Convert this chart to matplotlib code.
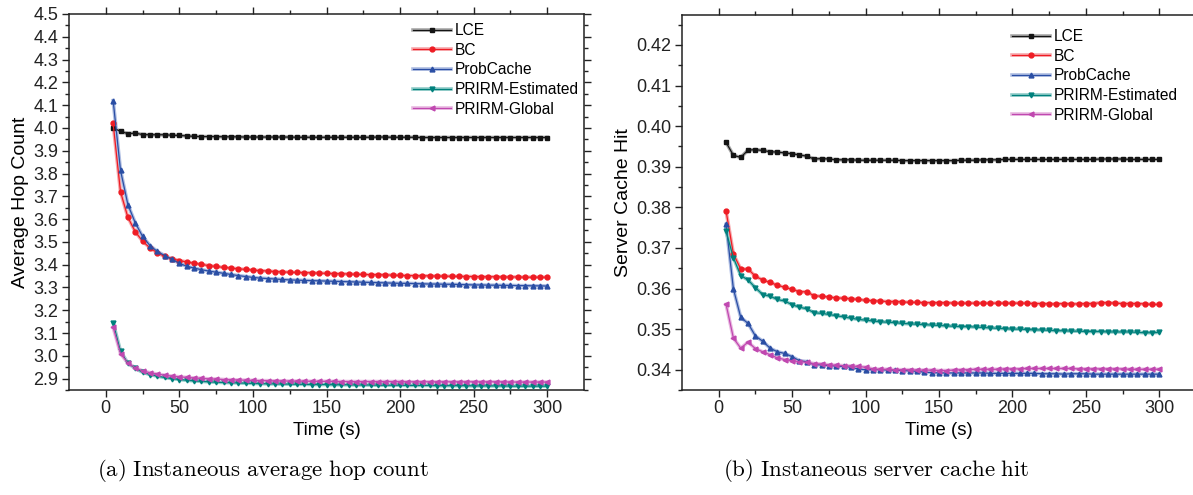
import numpy as np
import matplotlib
matplotlib.use('Agg')
import matplotlib.pyplot as plt
from matplotlib.ticker import MultipleLocator, FixedLocator, FormatStrFormatter

plt.rcParams['font.family'] = ['Liberation Sans', 'DejaVu Sans']
plt.rcParams['mathtext.fontset'] = 'cm'

# time axis (s), one sample every 5 s
time_s = list(range(5, 305, 5))

# (a) instantaneous average hop count
hop_lce = [4.000, 3.985, 3.975, 3.977, 3.971, 3.970, 3.970, 3.970, 3.968, 3.967,
           3.965, 3.963, 3.962, 3.962, 3.962, 3.961, 3.961, 3.961, 3.960, 3.960,
           3.960, 3.960, 3.960, 3.960, 3.960, 3.959, 3.959, 3.959, 3.959, 3.959,
           3.959, 3.959, 3.959, 3.959, 3.959, 3.959, 3.960, 3.960, 3.959, 3.959,
           3.959, 3.959, 3.958, 3.958, 3.958, 3.958, 3.958, 3.958, 3.958, 3.958,
           3.958, 3.958, 3.958, 3.958, 3.958, 3.958, 3.958, 3.958, 3.958, 3.958]
hop_bc = [4.020, 3.720, 3.608, 3.545, 3.503, 3.474, 3.452, 3.436, 3.426, 3.418,
          3.412, 3.406, 3.401, 3.396, 3.392, 3.388, 3.385, 3.382, 3.379, 3.376,
          3.374, 3.372, 3.370, 3.368, 3.367, 3.366, 3.365, 3.364, 3.363, 3.362,
          3.361, 3.360, 3.359, 3.358, 3.357, 3.356, 3.356, 3.355, 3.354, 3.353,
          3.352, 3.352, 3.351, 3.351, 3.350, 3.350, 3.349, 3.349, 3.348, 3.348,
          3.347, 3.347, 3.347, 3.346, 3.346, 3.346, 3.345, 3.345, 3.345, 3.345]
hop_prob = [4.120, 3.814, 3.664, 3.584, 3.524, 3.484, 3.458, 3.440, 3.424, 3.406,
            3.393, 3.385, 3.378, 3.372, 3.367, 3.362, 3.357, 3.352, 3.348, 3.344,
            3.341, 3.339, 3.337, 3.335, 3.333, 3.332, 3.331, 3.330, 3.329, 3.328,
            3.327, 3.326, 3.325, 3.324, 3.323, 3.322, 3.321, 3.320, 3.319, 3.318,
            3.318, 3.317, 3.316, 3.315, 3.315, 3.314, 3.314, 3.313, 3.312, 3.311,
            3.311, 3.310, 3.310, 3.309, 3.309, 3.308, 3.308, 3.307, 3.307, 3.306]
hop_est = [3.145, 3.020, 2.968, 2.945, 2.928, 2.918, 2.911, 2.905, 2.900, 2.896,
           2.893, 2.890, 2.888, 2.886, 2.884, 2.883, 2.882, 2.881, 2.880, 2.879,
           2.878, 2.877, 2.877, 2.876, 2.876, 2.875, 2.875, 2.874, 2.874, 2.874,
           2.873, 2.873, 2.873, 2.872, 2.872, 2.872, 2.871, 2.871, 2.871, 2.871,
           2.870, 2.870, 2.870, 2.870, 2.869, 2.869, 2.869, 2.869, 2.869, 2.868,
           2.868, 2.868, 2.868, 2.868, 2.867, 2.867, 2.867, 2.867, 2.867, 2.867]
hop_glob = [3.125, 3.010, 2.968, 2.948, 2.934, 2.926, 2.920, 2.915, 2.911, 2.908,
            2.905, 2.903, 2.901, 2.899, 2.898, 2.896, 2.895, 2.894, 2.893, 2.892,
            2.891, 2.891, 2.890, 2.890, 2.889, 2.889, 2.889, 2.888, 2.888, 2.888,
            2.888, 2.887, 2.887, 2.887, 2.887, 2.887, 2.887, 2.887, 2.887, 2.887,
            2.886, 2.886, 2.886, 2.886, 2.886, 2.886, 2.886, 2.886, 2.886, 2.886,
            2.886, 2.886, 2.886, 2.886, 2.885, 2.885, 2.885, 2.885, 2.885, 2.885]

# (b) instantaneous server cache hit
hit_lce = [.3960, .3928, .3923, .3941, .3942, .3940, .3937, .3936, .3934, .3932,
           .3929, .3926, .3919, .3920, .3919, .3917, .3917, .3917, .3916, .3916,
           .3916, .3916, .3916, .3916, .3915, .3915, .3915, .3915, .3915, .3915,
           .3915, .3915, .3916, .3916, .3916, .3917, .3917, .3917, .3918, .3918,
           .3918, .3918, .3918, .3918, .3918, .3918, .3918, .3918, .3918, .3918,
           .3918, .3919, .3919, .3919, .3919, .3918, .3918, .3918, .3918, .3918]
hit_bc = [.3791, .3685, .3648, .3648, .3630, .3621, .3615, .3608, .3603, .3598,
          .3592, .3592, .3582, .3581, .3579, .3577, .3576, .3575, .3573, .3571,
          .3570, .3569, .3568, .3568, .3567, .3566, .3566, .3565, .3565, .3565,
          .3565, .3564, .3564, .3564, .3564, .3564, .3564, .3564, .3564, .3564,
          .3564, .3564, .3563, .3563, .3562, .3562, .3563, .3562, .3562, .3563,
          .3563, .3565, .3565, .3564, .3563, .3563, .3563, .3562, .3561, .3561]
hit_prob = [.3758, .3599, .3529, .3514, .3483, .3470, .3453, .3444, .3440, .3432,
            .3422, .3420, .3412, .3412, .3410, .3409, .3408, .3406, .3402, .3400,
            .3400, .3400, .3399, .3399, .3398, .3397, .3396, .3394, .3393, .3392,
            .3392, .3392, .3392, .3392, .3392, .3392, .3391, .3391, .3391, .3391,
            .3391, .3391, .3391, .3390, .3390, .3390, .3389, .3390, .3390, .3390,
            .3389, .3389, .3389, .3389, .3389, .3389, .3389, .3389, .3389, .3389]
hit_est = [.3741, .3676, .3632, .3621, .3602, .3585, .3581, .3573, .3569, .3560,
           .3554, .3550, .3540, .3539, .3536, .3533, .3530, .3527, .3524, .3522,
           .3520, .3518, .3517, .3516, .3514, .3513, .3512, .3511, .3510, .3509,
           .3508, .3507, .3506, .3506, .3505, .3504, .3503, .3502, .3501, .3500,
           .3500, .3499, .3498, .3498, .3497, .3496, .3496, .3495, .3495, .3494,
           .3494, .3494, .3493, .3493, .3493, .3493, .3492, .3491, .3491, .3492]
hit_glob = [.3561, .3478, .3453, .3468, .3452, .3444, .3437, .3429, .3425, .3422,
            .3420, .3418, .3415, .3414, .3412, .3411, .3410, .3409, .3408, .3406,
            .3402, .3401, .3401, .3400, .3400, .3400, .3399, .3399, .3399, .3398,
            .3398, .3399, .3400, .3400, .3401, .3401, .3401, .3401, .3402, .3402,
            .3402, .3403, .3403, .3403, .3403, .3403, .3403, .3403, .3402, .3402,
            .3402, .3402, .3402, .3402, .3402, .3401, .3401, .3401, .3401, .3401]

labels = ['LCE', 'BC', 'ProbCache', 'PRIRM-Estimated', 'PRIRM-Global']
colors = ['#141414', '#ee1c24', '#2a4ea4', '#00807c', '#c048b0']
halos = ['#a8a8a8', '#f7a8ac', '#aebde2', '#90ccc8', '#e8b8e0']
markers = ['s', 'o', '^', 'v', '<']


def style_axes(ax, ymajor, yminor):
    ax.set_xlim(-25, 325)
    ax.xaxis.set_major_locator(FixedLocator([0, 50, 100, 150, 200, 250, 300]))
    ax.xaxis.set_minor_locator(FixedLocator([25, 75, 125, 175, 225, 275]))
    ax.yaxis.set_major_locator(MultipleLocator(ymajor))
    ax.yaxis.set_minor_locator(MultipleLocator(yminor))
    ax.tick_params(which='both', direction='out', top=True, right=True,
                   labeltop=False, labelright=False, width=1.0, colors='#222222',
                   labelsize=13, pad=2.5)
    ax.tick_params(which='major', length=5)
    ax.tick_params(which='minor', length=3)
    for s in ax.spines.values():
        s.set_linewidth(1.1)
        s.set_color('#222222')
    ax.set_xlabel('Time (s)', fontsize=13.5, labelpad=3)


def draw(ax, series):
    for y, lab, c, h, m in zip(series, labels, colors, halos, markers):
        # pale wide underlay, then the line with markers
        ax.plot(time_s, y, color=h, lw=2.6, zorder=2)
        ax.plot(time_s, y, color=c, lw=0.9, marker=m, ms=3.5, mec=c, mfc=c,
                zorder=3)
    # legend proxies with the pale underlay look
    return [ax.plot([], [], color=c, lw=0.9, marker=m, ms=3.5, mec=c, mfc=c)[0]
            for c, m in zip(colors, markers)], \
        [ax.plot([], [], color=h, lw=2.6)[0] for h in halos]


def add_legend(ax, anchor):
    fronts, backs = draw_handles[ax]
    ax.legend([(b, f) for b, f in zip(backs, fronts)], labels,
              loc='upper left', bbox_to_anchor=anchor,
              bbox_transform=fig.transFigure, frameon=False, fontsize=11.2,
              borderpad=0, borderaxespad=0, labelspacing=0.3, handlelength=2.45,
              handletextpad=0.25)


fig = plt.figure(figsize=(11.93, 4.95), dpi=100)
draw_handles = {}

ax1 = fig.add_axes([69 / 1193, 105 / 495, 515 / 1193, 376 / 495])
draw_handles[ax1] = draw(ax1, [hop_lce, hop_bc, hop_prob, hop_est, hop_glob])
style_axes(ax1, 0.1, 0.05)
ax1.set_ylim(2.85, 4.5)
ax1.yaxis.set_major_formatter(FormatStrFormatter('%.1f'))
ax1.set_ylabel('Average Hop Count', fontsize=14, labelpad=3)
add_legend(ax1, (413 / 1193, 1 - 23 / 495))

ax2 = fig.add_axes([682 / 1193, 105 / 495, 514 / 1193, 375.5 / 495])
draw_handles[ax2] = draw(ax2, [hit_lce, hit_bc, hit_prob, hit_est, hit_glob])
style_axes(ax2, 0.01, 0.005)
ax2.set_ylim(0.335, 0.4275)
ax2.yaxis.set_major_formatter(FormatStrFormatter('%.2f'))
ax2.set_ylabel('Server Cache Hit', fontsize=14, labelpad=3)
add_legend(ax2, (1012 / 1193, 1 - 29 / 495))

fig.text(263 / 1193, 1 - 470 / 495, r'$\mathrm{(a)\ Instaneous\ average\ hop\ count}$',
         ha='center', va='center', fontsize=16.5)
fig.text(876 / 1193, 1 - 470 / 495, r'$\mathrm{(b)\ Instaneous\ server\ cache\ hit}$',
         ha='center', va='center', fontsize=16.5)

fig.savefig('out.png', dpi=100)
